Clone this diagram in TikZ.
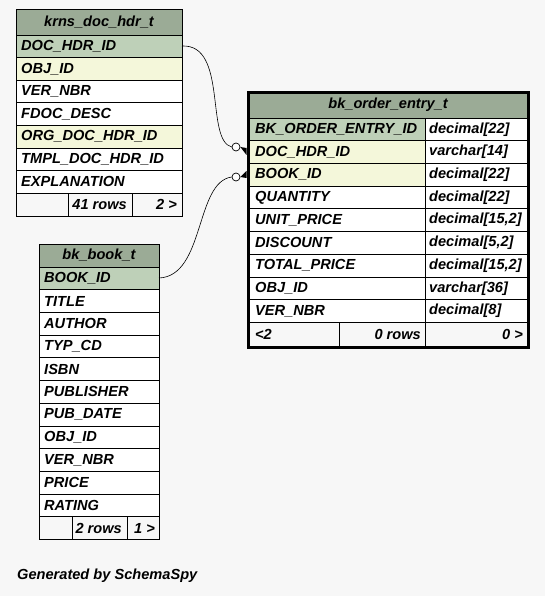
\documentclass[tikz,border=0pt]{standalone}
\usepackage{fontspec}
\setmainfont{Liberation Sans}
\definecolor{bgc}{HTML}{F7F7F7}
\definecolor{hdr}{HTML}{9BAB96}
\definecolor{pkc}{HTML}{BED0B8}
\definecolor{fkc}{HTML}{F4F7DA}
\tikzset{
  txt/.style={inner sep=0pt, font=\fontsize{14.6}{16}\selectfont\bfseries\itshape, text=black},
  cellw/.style={txt, anchor=west},
  celle/.style={txt, anchor=east},
  cellc/.style={txt, anchor=center},
  grid/.style={draw=black, line width=0.8pt},
  rel/.style={draw=black, line width=0.6pt},
  opt/.style={circle, draw=black, fill=white, line width=0.7pt, minimum size=8pt, inner sep=0pt},
}
\begin{document}
\begin{tikzpicture}[x=1pt,y=-1pt]
\fill[bgc] (0,0) rectangle (545,596);
\useasboundingbox (0,0) rectangle (545,596);

% ---------- krns_doc_hdr_t ----------
\fill[hdr] (16,9) rectangle (182,35);
\node[cellc] (k-title) at (99,22) {krns\_doc\_hdr\_t};
\foreach \i/\t/\c in {0/DOC\_HDR\_ID/pkc,1/OBJ\_ID/fkc,2/VER\_NBR/white,3/FDOC\_DESC/white,4/ORG\_DOC\_HDR\_ID/fkc,5/TMPL\_DOC\_HDR\_ID/white,6/EXPLANATION/white}{
  \pgfmathsetmacro{\ya}{35+22.6*\i}
  \pgfmathsetmacro{\yb}{35+22.6*(\i+1)}
  \pgfmathsetmacro{\ym}{35+22.6*(\i+0.5)}
  \path[fill=\c,grid] (16,\ya) rectangle (182,\yb);
  \node[cellw] (k-r\i) at (21,\ym) {\t};
}
\path[grid] (16,193.2) rectangle (68,216);
\path[grid] (68,193.2) rectangle (132,216);
\path[grid] (132,193.2) rectangle (182,216);
\node[celle] (k-rows) at (127,204.6) {41 rows};
\node[celle] (k-next) at (177,204.6) {2 >};
\draw[grid] (16,9) rectangle (182,216);
\coordinate (k-pk) at (182,46);

% ---------- bk_order_entry_t ----------
\fill[hdr] (249,94) rectangle (527,118);
\node[cellc] (o-title) at (388,105) {bk\_order\_entry\_t};
\foreach \i/\t/\d/\c in {0/BK\_ORDER\_ENTRY\_ID/decimal[22]/pkc,1/DOC\_HDR\_ID/varchar[14]/fkc,2/BOOK\_ID/decimal[22]/fkc,3/QUANTITY/decimal[22]/white,4/UNIT\_PRICE/decimal[15{,}2]/white,5/DISCOUNT/decimal[5{,}2]/white,6/TOTAL\_PRICE/decimal[15{,}2]/white,7/OBJ\_ID/varchar[36]/white,8/VER\_NBR/decimal[8]/white}{
  \pgfmathsetmacro{\ya}{118+22.7*\i}
  \pgfmathsetmacro{\yb}{118+22.7*(\i+1)}
  \pgfmathsetmacro{\ym}{118+22.7*(\i+0.5)}
  \path[fill=\c,grid] (249,\ya) rectangle (425,\yb);
  \path[fill=white,grid] (425,\ya) rectangle (527,\yb);
  \node[cellw] (o-r\i) at (255,\ym) {\t};
  \node[cellw] (o-t\i) at (429,\ym) {\d};
}
\path[grid] (249,322.3) rectangle (339,346);
\path[grid] (339,322.3) rectangle (425,346);
\path[grid] (425,322.3) rectangle (527,346);
\node[cellw] (o-prev) at (255,334) {<2};
\node[celle] (o-rows) at (421,334) {0 rows};
\node[celle] (o-next) at (523,334) {0 >};
\draw[black, line width=3pt] (248,93) rectangle (528,347);

% ---------- bk_book_t ----------
\fill[hdr] (39,244) rectangle (159,267);
\node[cellc] (b-title) at (99,255.5) {bk\_book\_t};
\foreach \i/\t/\c in {0/BOOK\_ID/pkc,1/TITLE/white,2/AUTHOR/white,3/TYP\_CD/white,4/ISBN/white,5/PUBLISHER/white,6/PUB\_DATE/white,7/OBJ\_ID/white,8/VER\_NBR/white,9/PRICE/white,10/RATING/white}{
  \pgfmathsetmacro{\ya}{267+22.7*\i}
  \pgfmathsetmacro{\yb}{267+22.7*(\i+1)}
  \pgfmathsetmacro{\ym}{267+22.7*(\i+0.5)}
  \path[fill=\c,grid] (39,\ya) rectangle (159,\yb);
  \node[cellw] (b-r\i) at (44,\ym) {\t};
}
\path[grid] (39,516.7) rectangle (72,539);
\path[grid] (72,516.7) rectangle (127,539);
\path[grid] (127,516.7) rectangle (159,539);
\node[celle] (b-rows) at (122,528) {2 rows};
\node[celle] (b-next) at (155,528) {1 >};
\draw[grid] (39,244) rectangle (159,539);
\coordinate (b-pk) at (159,278);

% ---------- relationships ----------
\node[opt] (c1) at (236,147) {};
\node[opt] (c2) at (236,177) {};
\coordinate (o-fk1) at (246.5,151);
\coordinate (o-fk2) at (246.5,174);
\draw[rel] (k-pk) .. controls (228,44) and (205,140) .. (c1.west);
\draw[rel] (b-pk) .. controls (205,276) and (195,182) .. (c2.west);
\foreach \c/\f in {c1/o-fk1,c2/o-fk2}{
  \fill[black] (\c.east) -- ([yshift=-4]\f) -- ([yshift=3]\f) -- cycle;
}

\node[cellw] (gen) at (17,576) {Generated by SchemaSpy};
\end{tikzpicture}
\end{document}
